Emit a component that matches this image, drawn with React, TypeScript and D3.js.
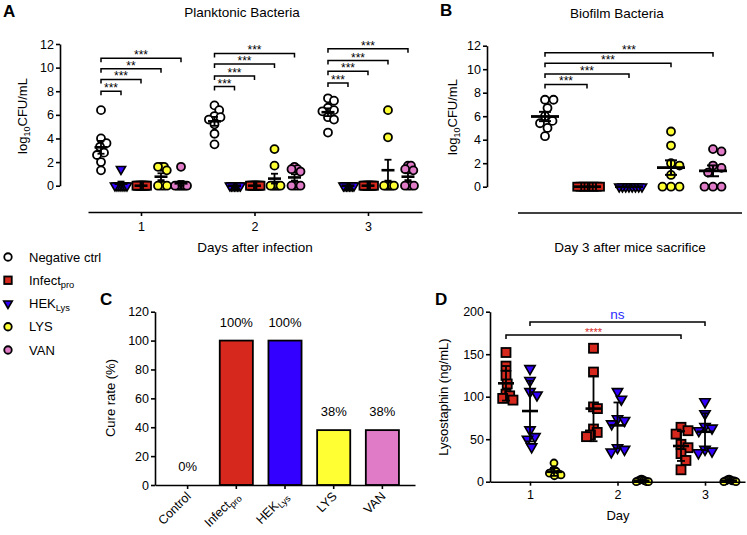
import { useEffect, useRef } from "react";
import * as d3 from "d3";

const FONT = "Liberation Sans, Arial, Helvetica, sans-serif";
const RED = "#d7281e";
const BLUE = "#3300ff";
const YELLOW = "#ffff33";
const PINK = "#e07bc8";

const days = [1, 2, 3];

// group order on the x axis of each scatter panel
const plankGroups = ["neg", "hek", "inf", "lys", "van"];
const biofilmGroups = ["neg", "inf", "hek", "lys", "van"];
const lysoGroups = ["inf", "hek", "lys"];

// A: planktonic bacteria, log10 CFU/mL, one row per day
const negPlank = [
    [6.4, 4.0, 3.6, 3.3, 2.8, 2.6, 2.0, 1.3],
    [6.8, 6.4, 5.9, 5.8, 5.6, 5.2, 4.4, 3.5],
    [7.4, 7.2, 6.6, 6.4, 6.3, 5.8, 5.6, 4.5],
];
const hekPlank = [
    [1.4, 0, 0, 0, 0, 0, 0, 0],
    [0, 0, 0, 0, 0, 0, 0, 0],
    [0, 0, 0, 0, 0, 0, 0, 0],
];
const infPlank = [
    [0, 0, 0, 0, 0, 0, 0, 0],
    [0, 0, 0, 0, 0, 0, 0, 0],
    [0, 0, 0, 0, 0, 0, 0, 0],
];
const lysPlank = [
    [1.6, 1.6, 1.6, 1.3, 0, 0, 0, 0],
    [3.1, 1.7, 0, 0, 0, 0, 0, 0],
    [6.4, 4.1, 0, 0, 0, 0, 0, 0],
];
const vanPlank = [
    [1.6, 0, 0, 0, 0, 0, 0, 0],
    [1.6, 1.4, 1.4, 1.2, 0, 0, 0, 0],
    [1.7, 1.7, 1.4, 1.3, 0, 0, 0, 0],
];
// bracket heights (neg ctrl vs hek, inf, lys, van) and labels per day
const sigPlank = [
    [8.0, 9.0, 9.9, 10.8],
    [8.4, 9.3, 10.3, 11.2],
    [8.7, 9.7, 10.6, 11.6],
];
const sigPlankLabels = [
    ["***", "***", "**", "***"],
    ["***", "***", "***", "***"],
    ["***", "***", "***", "***"],
];

// B: biofilm bacteria, day 3
const negBio = [7.4, 7.4, 6.7, 6.0, 5.6, 5.4, 5.0, 4.3];
const infBio = [0, 0, 0, 0, 0, 0, 0, 0];
const hekBio = [0, 0, 0, 0, 0, 0, 0, 0];
const lysBio = [4.7, 3.5, 2.0, 1.8, 1.0, 0, 0, 0];
const vanBio = [3.2, 3.0, 1.8, 1.6, 1.2, 0, 0, 0];
const sigBio = [8.7, 9.6, 10.5, 11.4];
const sigBioLabels = ["***", "***", "***", "***"];

// C: cure rate
const cureCats = ["Control", "Infect", "HEK", "LYS", "VAN"];
const cureSubs = ["", "pro", "Lys", "", ""];
const cureRate = [0, 100, 100, 38, 38];
const cureColors = ["none", RED, BLUE, YELLOW, PINK];

// D: lysostaphin ng/mL, one row per day
const lysoInf = [
    [152, 136, 125, 115, 103, 101, 98, 96],
    [157, 129, 88, 86, 62, 58, 55, 53],
    [64, 60, 56, 44, 40, 33, 25, 14],
];
const lysoHek = [
    [133, 119, 106, 102, 61, 53, 50, 41],
    [106, 97, 74, 72, 68, 40, 38, 35],
    [94, 80, 65, 63, 60, 38, 36, 34],
];
const lysoLys = [
    [22, 14, 12, 11, 10, 9, 8, 7],
    [3, 2, 2, 1, 1, 0, 0, 0],
    [3, 2, 2, 1, 1, 1, 0, 0],
];
const lysoSigGroups = ["inf", "hek"];
const lysoSigY = [172.6, 188];
const lysoSigLabels = ["****", "ns"];
const lysoSigColors = [RED, "#2a2aff"];

// legend
const legendGroups = ["neg", "inf", "hek", "lys", "van"];
const legendNames = ["Negative ctrl", "Infect", "HEK", "LYS", "VAN"];
const legendSubs = ["", "pro", "Lys", "", ""];

const markerStyle = {
    neg: { shape: "circle", fill: "white" },
    inf: { shape: "square", fill: RED },
    hek: { shape: "triangle", fill: BLUE },
    lys: { shape: "circle", fill: YELLOW },
    van: { shape: "circle", fill: PINK },
};

// simple deterministic beeswarm, squeezed into +-cap px
function swarm(values, y, dmin, cap) {
    const placed = [];
    const offs = values.map(() => 0);
    const order = values.map((v, i) => i).sort((a, b) => values[b] - values[a]);
    for (const i of order) {
        const py = y(values[i]);
        let chosen = 0;
        for (let k = 0; k < 400; k++) {
            const cand = k === 0 ? 0 : (k % 2 === 1 ? 1 : -1) * Math.ceil(k / 2) * 0.5;
            if (placed.every(p => Math.hypot(p.x - cand, p.y - py) >= dmin)) {
                chosen = cand;
                break;
            }
        }
        placed.push({ x: chosen, y: py });
        offs[i] = chosen;
    }
    const m = d3.max(offs, o => Math.abs(o));
    const s = m > cap ? cap / m : 1;
    return offs.map(o => o * s);
}

function drawMarker(g, kind, x, y, size) {
    const st = markerStyle[kind];
    if (st.shape === "circle") {
        g.append("circle")
            .attr("cx", x).attr("cy", y).attr("r", size / 2)
            .attr("fill", st.fill).attr("stroke", "black").attr("stroke-width", 1.8);
    } else if (st.shape === "square") {
        g.append("rect")
            .attr("x", x - size / 2).attr("y", y - size / 2)
            .attr("width", size).attr("height", size)
            .attr("fill", st.fill).attr("stroke", "black").attr("stroke-width", 1.8);
    } else {
        const side = size * 1.15;
        g.append("path")
            .attr("d", d3.symbol(d3.symbolTriangle, (Math.sqrt(3) / 4) * side * side)())
            .attr("transform", `translate(${x},${y}) rotate(180)`)
            .attr("fill", st.fill).attr("stroke", "black").attr("stroke-width", 1.6);
    }
}

function drawGroup(g, kind, values, cx, y, opt) {
    const offs = swarm(values, y, opt.dmin, opt.cap);
    values.forEach((v, i) => drawMarker(g, kind, cx + offs[i], y(v), opt.size));
    const m = d3.mean(values);
    const sd = d3.deviation(values) || 0;
    const err = opt.sem ? sd / Math.sqrt(values.length) : sd;
    const lw = opt.lw;
    g.append("line")
        .attr("x1", cx - opt.meanW / 2).attr("x2", cx + opt.meanW / 2)
        .attr("y1", y(m)).attr("y2", y(m))
        .attr("stroke", "black").attr("stroke-width", lw + 0.8);
    if (err > 0) {
        g.append("line")
            .attr("x1", cx).attr("x2", cx)
            .attr("y1", y(Math.max(0, m - err))).attr("y2", y(m + err))
            .attr("stroke", "black").attr("stroke-width", lw);
        [m + err, m - err].forEach(e => {
            if (e < 0) return;
            g.append("line")
                .attr("x1", cx - opt.capW / 2).attr("x2", cx + opt.capW / 2)
                .attr("y1", y(e)).attr("y2", y(e))
                .attr("stroke", "black").attr("stroke-width", lw);
        });
    }
}

function bracket(g, x1, x2, y, label, color, size) {
    g.append("path")
        .attr("d", `M${x1},${y + 4}V${y}H${x2}V${y + 4}`)
        .attr("fill", "none").attr("stroke", "black").attr("stroke-width", 1.5);
    g.append("text")
        .attr("x", (x1 + x2) / 2).attr("y", label === "ns" ? y - 3 : y + 1)
        .attr("text-anchor", "middle")
        .attr("fill", color)
        .style("font-size", `${size}px`)
        .text(label);
}

function styleAxis(ax) {
    ax.selectAll(".domain").attr("stroke", "black").attr("stroke-width", 1.6);
    ax.selectAll(".tick line").attr("stroke", "black").attr("stroke-width", 1.6);
    ax.selectAll("text").style("font-size", "12.5px").style("font-family", FONT).attr("fill", "black");
}

function subText(g, x, y, main, sub, size, anchor, transform) {
    const t = g.append("text")
        .attr("x", x).attr("y", y)
        .attr("text-anchor", anchor)
        .style("font-size", `${size}px`);
    if (transform) t.attr("transform", transform);
    t.append("tspan").text(main);
    if (sub) t.append("tspan").attr("dy", 3).style("font-size", `${size * 0.72}px`).text(sub);
    return t;
}

const App = () => {
    const ref = useRef(null);

    useEffect(() => {
        const svg = d3.select(ref.current);
        svg.selectAll("*").remove();
        const root = svg.append("g").style("font-family", FONT);

        // ---------- A ----------
        const plankData = { neg: negPlank, hek: hekPlank, inf: infPlank, lys: lysPlank, van: vanPlank };
        const xA = d3.scaleLinear().domain([0.533, 3.476]).range([88, 422]);
        const yA = d3.scaleLinear().domain([0, 12]).range([185.7, 44]);
        const offA = d3.scalePoint().domain(plankGroups).range([-40, 40]);
        const gA = root.append("g");

        styleAxis(gA.append("g").attr("transform", "translate(60,0)")
            .call(d3.axisLeft(yA).tickValues(d3.range(0, 13, 2)).tickSize(4).tickSizeOuter(0).tickPadding(2)));
        styleAxis(gA.append("g").attr("transform", "translate(0,212)")
            .call(d3.axisBottom(xA).tickValues(days).tickFormat(d3.format("d")).tickSize(4).tickSizeOuter(0).tickPadding(6)));

        days.forEach((d, di) => {
            plankGroups.forEach(k => {
                drawGroup(gA, k, plankData[k][di], xA(d) + offA(k), yA,
                    { dmin: 7, cap: 6, size: 8, sem: true, meanW: 13, capW: 7, lw: 1.8 });
            });
            plankGroups.slice(1).forEach((k, j) => {
                bracket(gA, xA(d) + offA("neg"), xA(d) + offA(k), yA(sigPlank[di][j]), sigPlankLabels[di][j], "black", 12);
            });
        });

        gA.append("text").attr("x", 3).attr("y", 17).style("font-size", "17px").style("font-weight", "bold").text("A");
        gA.append("text").attr("x", 242).attr("y", 17).attr("text-anchor", "middle").style("font-size", "13.5px").text("Planktonic Bacteria");
        gA.append("text").attr("x", 255).attr("y", 252).attr("text-anchor", "middle").style("font-size", "13.5px").text("Days after infection");
        const ylA = gA.append("text").attr("transform", "translate(27,116) rotate(-90)").attr("text-anchor", "middle").style("font-size", "13px");
        ylA.append("tspan").text("log");
        ylA.append("tspan").attr("dy", 3).style("font-size", "9px").text("10");
        ylA.append("tspan").attr("dy", -3).text("CFU/mL");

        // ---------- B ----------
        const bioData = { neg: negBio, inf: infBio, hek: hekBio, lys: lysBio, van: vanBio };
        const xB = d3.scalePoint().domain(biofilmGroups).range([545, 713]);
        const yB = d3.scaleLinear().domain([0, 12]).range([186.7, 45.7]);
        const gB = root.append("g");
        styleAxis(gB.append("g").attr("transform", "translate(487,0)")
            .call(d3.axisLeft(yB).tickValues(d3.range(0, 13, 2)).tickSize(4).tickSizeOuter(0).tickPadding(2)));
        gB.append("line").attr("x1", 518).attr("x2", 742).attr("y1", 213).attr("y2", 213)
            .attr("stroke", "black").attr("stroke-width", 1.6);
        biofilmGroups.forEach(k => {
            drawGroup(gB, k, bioData[k], xB(k), yB,
                { dmin: 8.5, cap: 13, size: 8, sem: true, meanW: 28, capW: 12, lw: 2 });
        });
        biofilmGroups.slice(1).forEach((k, j) => {
            bracket(gB, xB("neg"), xB(k), yB(sigBio[j]), sigBioLabels[j], "black", 12);
        });
        gB.append("text").attr("x", 440).attr("y", 16).style("font-size", "17px").style("font-weight", "bold").text("B");
        gB.append("text").attr("x", 617).attr("y", 18).attr("text-anchor", "middle").style("font-size", "13.5px").text("Biofilm Bacteria");
        gB.append("text").attr("x", 630).attr("y", 252).attr("text-anchor", "middle").style("font-size", "13.5px").text("Day 3 after mice sacrifice");
        const ylB = gB.append("text").attr("transform", "translate(457,117) rotate(-90)").attr("text-anchor", "middle").style("font-size", "13px");
        ylB.append("tspan").text("log");
        ylB.append("tspan").attr("dy", 3).style("font-size", "9px").text("10");
        ylB.append("tspan").attr("dy", -3).text("CFU/mL");

        // ---------- legend ----------
        const gL = root.append("g");
        const yL = d3.scalePoint().domain(legendGroups).range([257, 350]);
        legendGroups.forEach((k, i) => {
            drawMarker(gL, k, 8, yL(k), 7.5);
            subText(gL, 29, yL(k) + 4.5, legendNames[i], legendSubs[i], 13, "start", null);
        });

        // ---------- C ----------
        const gC = root.append("g");
        const xC = d3.scaleBand().domain(cureCats).range([155, 415]).paddingInner(0.32).paddingOuter(0.33);
        const yC = d3.scaleLinear().domain([0, 120]).range([485, 311.7]);
        cureCats.forEach((c, i) => {
            if (cureRate[i] <= 0) return;
            gC.append("rect")
                .attr("x", xC(c)).attr("y", yC(cureRate[i]))
                .attr("width", xC.bandwidth()).attr("height", yC(0) - yC(cureRate[i]))
                .attr("fill", cureColors[i]).attr("stroke", "black").attr("stroke-width", 1.8);
        });
        cureCats.forEach((c, i) => {
            gC.append("text")
                .attr("x", xC(c) + xC.bandwidth() / 2).attr("y", yC(cureRate[i]) - 14)
                .attr("text-anchor", "middle").style("font-size", "13px")
                .text(`${cureRate[i]}%`);
        });
        styleAxis(gC.append("g").attr("transform", "translate(155,0)")
            .call(d3.axisLeft(yC).tickValues(d3.range(0, 121, 20)).tickSize(4).tickSizeOuter(0).tickPadding(2)));
        styleAxis(gC.append("g").attr("transform", "translate(0,485)")
            .call(d3.axisBottom(xC).tickSize(4).tickSizeOuter(0).tickFormat(() => "")));
        cureCats.forEach((c, i) => {
            const cx = xC(c) + xC.bandwidth() / 2;
            subText(gC, 0, 0, c, cureSubs[i], 12.5, "end", `translate(${cx + 4},${497}) rotate(-45)`);
        });
        gC.append("text").attr("x", 100).attr("y", 305).style("font-size", "17px").style("font-weight", "bold").text("C");
        gC.append("text").attr("transform", "translate(115,398) rotate(-90)").attr("text-anchor", "middle").style("font-size", "13px").text("Cure rate (%)");

        // ---------- D ----------
        const lysoData = { inf: lysoInf, hek: lysoHek, lys: lysoLys };
        const gD = root.append("g");
        const xD = d3.scaleLinear().domain([0.543, 3.457]).range([490, 745]);
        const yD = d3.scaleLinear().domain([0, 200]).range([481.7, 311.7]);
        const offD = d3.scalePoint().domain(lysoGroups).range([-24, 24]);
        days.forEach((d, di) => {
            lysoGroups.forEach(k => {
                const small = k === "lys";
                drawGroup(gD, k, lysoData[k][di], xD(d) + offD(k), yD,
                    { dmin: small ? 6 : 9, cap: small ? 7 : 7, size: small ? 7 : 9, sem: false, meanW: 16, capW: 8, lw: 1.8 });
            });
        });
        styleAxis(gD.append("g").attr("transform", "translate(490,0)")
            .call(d3.axisLeft(yD).tickValues([0, 50, 100, 150, 200]).tickSize(4).tickSizeOuter(0).tickPadding(2)));
        styleAxis(gD.append("g").attr("transform", `translate(0,${yD(0)})`)
            .call(d3.axisBottom(xD).tickValues(days).tickFormat(d3.format("d")).tickSize(4).tickSizeOuter(0).tickPadding(4)));
        lysoSigGroups.forEach((k, i) => {
            bracket(gD, xD(1) + offD(k), xD(3) + offD(k), yD(lysoSigY[i]), lysoSigLabels[i], lysoSigColors[i], i === 0 ? 11 : 13.5);
        });
        gD.append("text").attr("x", 435).attr("y", 305).style("font-size", "17px").style("font-weight", "bold").text("D");
        gD.append("text").attr("x", 618).attr("y", 520).attr("text-anchor", "middle").style("font-size", "13px").text("Day");
        gD.append("text").attr("transform", "translate(448,397) rotate(-90)").attr("text-anchor", "middle").style("font-size", "13px").text("Lysostaphin (ng/mL)");

        return () => {
            svg.selectAll("*").remove();
        };
    }, []);

    return (
        <svg ref={ref} width={747} height={535}
            style={{ position: "absolute", left: 0, top: 0, background: "white", display: "block" }} />
    );
};

export default App;
